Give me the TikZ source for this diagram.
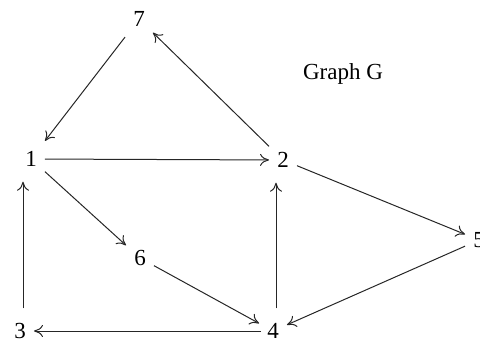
\documentclass[tikz,border=0pt]{standalone}
\usepackage{fontspec}
\setmainfont{Liberation Serif}
\usetikzlibrary{arrows.meta}
\begin{document}
\begin{tikzpicture}[x=1pt,y=-1pt,
  vtx/.style={inner xsep=8pt,inner ysep=15pt,text height=15pt,text depth=0pt,font=\fontsize{23}{25}\selectfont},
  edge/.style={draw=black!85,line width=1pt,-{Computer Modern Rightarrow[length=9pt,width=12pt]}}]
\useasboundingbox (0,0) rectangle (480,343);
\node[vtx] (n7) at (139,19) {7};
\node[vtx] (n1) at (31,159) {1};
\node[vtx] (n2) at (283,160) {2};
\node[vtx] (n6) at (140,258) {6};
\node[vtx] (n3) at (20,331) {3};
\node[vtx] (n4) at (273,331) {4};
\node[vtx] (n5) at (479,240) {5};
\node[font=\fontsize{23}{25}\selectfont] (title) at (343,74) {Graph G};
\draw[edge] (n7) -- (n1);
\draw[edge] (n2) -- (n7);
\draw[edge] (n1) -- (n2);
\draw[edge] (n1) -- (n6);
\draw[edge] ([xshift=3pt]n3.north) -- ([xshift=-8pt]n1.south);
\draw[edge] (n2) -- (n5);
\draw[edge] (n6) -- (n4);
\draw[edge] ([xshift=3pt]n4.north) -- ([xshift=-7pt]n2.south);
\draw[edge] (n5) -- (n4);
\draw[edge] ([xshift=2pt]n4.west) -- (n3);
\end{tikzpicture}
\end{document}
